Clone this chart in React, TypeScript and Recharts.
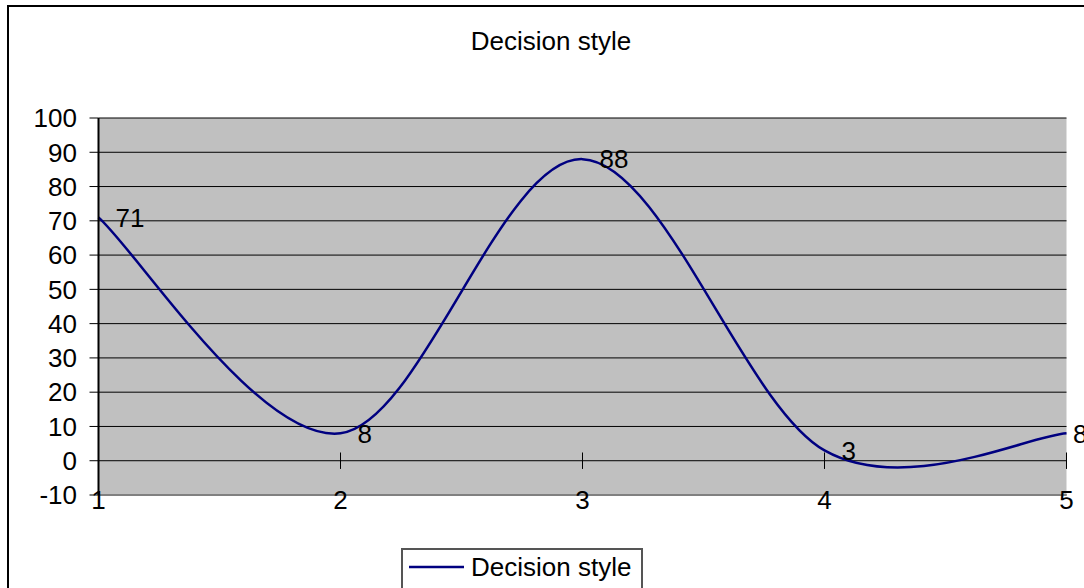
import React from 'react'
import { LineChart, Line, XAxis, YAxis, CartesianGrid, ReferenceLine, LabelList, Legend } from 'recharts'

const categories = [1, 2, 3, 4, 5]
const decisionStyle = [71, 8, 88, 3, 8]
const yTicks = [-10, 0, 10, 20, 30, 40, 50, 60, 70, 80, 90, 100]
const seriesName = 'Decision style'
const chartTitle = 'Decision style'

const data = categories.map((c, i) => ({ x: c, value: decisionStyle[i] }))

// excel-like smoothing (catmull-rom, endpoints repeated)
const excelSmooth = (context: any) => {
  let pts: number[][] = []
  return {
    areaStart() {},
    areaEnd() {},
    lineStart() {
      pts = []
    },
    point(x: number, y: number) {
      pts.push([+x, +y])
    },
    lineEnd() {
      const n = pts.length
      if (!n) return
      context.moveTo(pts[0][0], pts[0][1])
      for (let i = 0; i < n - 1; i++) {
        const p0 = pts[Math.max(i - 1, 0)]
        const p1 = pts[i]
        const p2 = pts[i + 1]
        const p3 = pts[Math.min(i + 2, n - 1)]
        context.bezierCurveTo(
          p1[0] + (p2[0] - p0[0]) / 6,
          p1[1] + (p2[1] - p0[1]) / 6,
          p2[0] - (p3[0] - p1[0]) / 6,
          p2[1] - (p3[1] - p1[1]) / 6,
          p2[0],
          p2[1]
        )
      }
    },
  }
}

const font = '"Liberation Sans", Arial, sans-serif'

// data label to the right of the point, pushed back inside the chart area near the edge
function PointLabel(props: any) {
  const vb = props.viewBox || {}
  const px = vb.x ?? props.x
  const py = vb.y ?? props.y
  if (px == null || py == null) return null
  const x = Math.min(px + 17, 1064)
  return (
    <text x={x} y={py} dy="0.355em" fontSize={26} fill="#000" textAnchor="start">
      {props.value}
    </text>
  )
}

function LegendBox({ payload }: any) {
  return (
    <div
      style={{
        display: 'inline-flex',
        alignItems: 'center',
        border: '2px solid #555',
        background: '#fff',
        padding: '3px 10px 12px 6px',
        fontSize: 26,
        lineHeight: '28px',
        color: '#000',
        fontFamily: font,
      }}
    >
      {(payload || []).map((p: any) => (
        <span key={p.value} style={{ display: 'flex', alignItems: 'center' }}>
          <svg width={55} height={6}>
            <line x1={0} y1={3} x2={55} y2={3} stroke={p.color} strokeWidth={2.5} />
          </svg>
          <span style={{ marginLeft: 7, whiteSpace: 'nowrap' }}>{p.value}</span>
        </span>
      ))}
    </div>
  )
}

export default function App() {
  return (
    <div style={{ position: 'fixed', left: 0, top: 0, width: 1084, height: 588, overflow: 'hidden', background: '#fff', fontFamily: font }}>
      <div style={{ position: 'absolute', left: 7, top: 5, width: 1100, height: 620, border: '2px solid #000' }}>
        <LineChart width={1100} height={620} data={data} margin={{ top: 111, right: 42.5, bottom: 92, left: 0 }}>
          <CartesianGrid horizontal vertical={false} stroke="#000" strokeWidth={1} fill="#C0C0C0" fillOpacity={1} />
          <XAxis
            dataKey="x"
            type="number"
            domain={[1, 5]}
            ticks={categories}
            interval={0}
            height={40}
            axisLine={{ stroke: '#808080', strokeWidth: 2 }}
            tickLine={false}
            tickSize={0}
            tickMargin={-4}
            tick={{ fontSize: 26, fill: '#000' }}
          />
          <XAxis xAxisId="top" orientation="top" dataKey="x" type="number" domain={[1, 5]} height={0} tick={false} tickLine={false} axisLine={{ stroke: '#808080', strokeWidth: 2 }} />
          <YAxis
            domain={[-10, 100]}
            ticks={yTicks}
            interval={0}
            width={89.5}
            axisLine={{ stroke: '#000', strokeWidth: 2 }}
            tickLine={{ stroke: '#000' }}
            tickSize={9}
            tickMargin={12.5}
            tick={{ fontSize: 26, fill: '#000' }}
          />
          <YAxis yAxisId="right" orientation="right" domain={[-10, 100]} width={0} tick={false} tickLine={false} axisLine={{ stroke: '#808080', strokeWidth: 2 }} />
          {categories.map((c) => (
            <ReferenceLine key={c} segment={[{ x: c, y: -2.4 }, { x: c, y: 2.4 }]} stroke="#000" strokeWidth={1} />
          ))}
          <Legend
            verticalAlign="middle"
            align="center"
            layout="horizontal"
            wrapperStyle={{ left: 392, top: 541, width: 'auto', height: 'auto' }}
            content={<LegendBox />}
          />
          <Line
            dataKey="value"
            name={seriesName}
            type={excelSmooth as any}
            stroke="#000080"
            strokeWidth={2.5}
            dot={false}
            activeDot={false}
            isAnimationActive={false}
          >
            <LabelList dataKey="value" content={<PointLabel />} />
          </Line>
        </LineChart>
      </div>
      <div
        style={{
          position: 'absolute',
          left: 551,
          top: 28,
          transform: 'translateX(-50%)',
          fontSize: 26,
          lineHeight: '26px',
          whiteSpace: 'nowrap',
          color: '#000',
        }}
      >
        {chartTitle}
      </div>
    </div>
  )
}
